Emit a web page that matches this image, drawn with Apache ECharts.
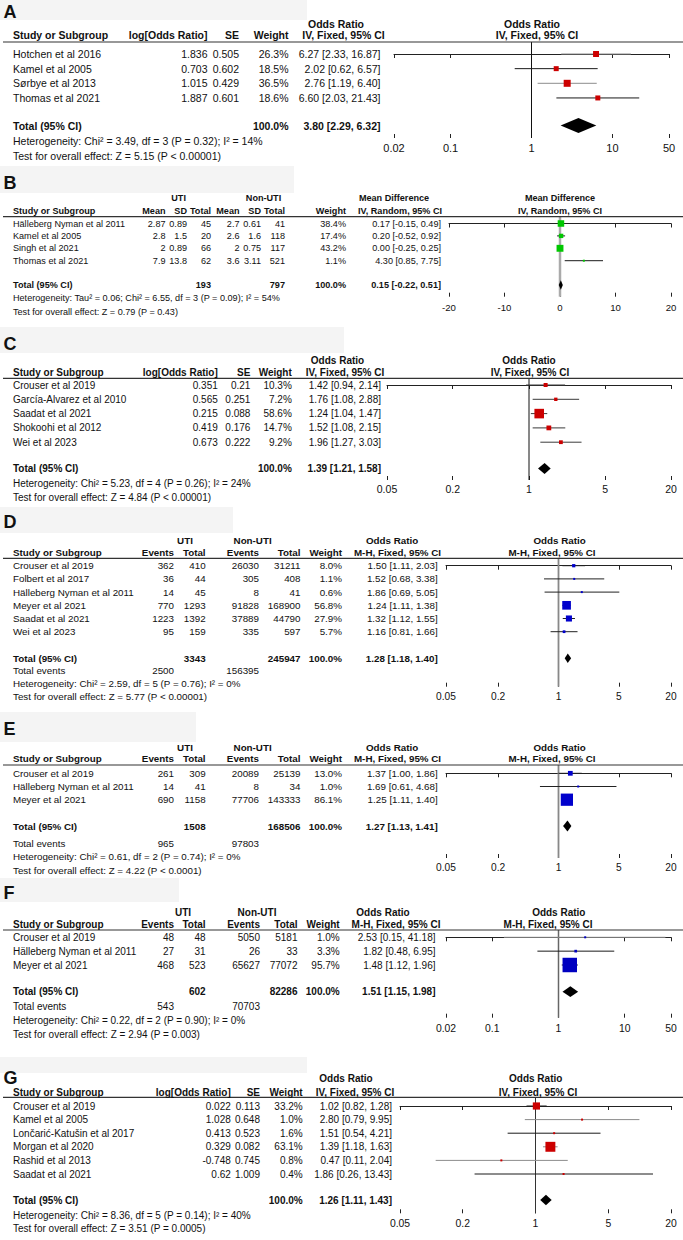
<!DOCTYPE html>
<html>
<head>
<meta charset="utf-8">
<script src="https://cdn.jsdelivr.net/npm/echarts@6.0.0/dist/echarts.min.js"></script>
<style>
html,body{margin:0;padding:0;background:#fff;}
#c{width:683px;height:1240px;}
</style>
</head>
<body>
<div id="c"></div>
<script>
// ---------------- DATA ----------------
// Panel A
const A_study = ['Hotchen et al 2016', 'Kamel et al 2005', 'Sørbye et al 2013', 'Thomas et al 2021'];
const A_logOR = [1.836, 0.703, 1.015, 1.887];
const A_se = [0.505, 0.602, 0.429, 0.601];
const A_weight = [26.3, 18.5, 36.5, 18.6];
const A_or = [6.27, 2.02, 2.76, 6.60];
const A_lo = [2.33, 0.62, 1.19, 2.03];
const A_hi = [16.87, 6.57, 6.40, 21.43];
const A_total = [3.80, 2.29, 6.32];
const A_ticks = [0.02, 0.1, 1, 10, 50];
const A_het = 'Heterogeneity: Chi² = 3.49, df = 3 (P = 0.32); I² = 14%';
const A_test = 'Test for overall effect: Z = 5.15 (P < 0.00001)';

// Panel B
const B_study = ['Hälleberg Nyman et al 2011', 'Kamel et al 2005', 'Singh et al 2021', 'Thomas et al 2021'];
const B_utiMean = [2.87, 2.8, 2, 7.9];
const B_utiSD = [0.89, 1.5, 0.89, 13.8];
const B_utiN = [45, 20, 66, 62];
const B_nonMean = [2.7, 2.6, 2, 3.6];
const B_nonSD = [0.61, 1.6, 0.75, 3.11];
const B_nonN = [41, 118, 117, 521];
const B_weight = [38.4, 17.4, 43.2, 1.1];
const B_md = [0.17, 0.20, 0.00, 4.30];
const B_lo = [-0.15, -0.52, -0.25, 0.85];
const B_hi = [0.49, 0.92, 0.25, 7.75];
const B_total = [0.15, -0.22, 0.51];
const B_totals = [193, 797];
const B_ticks = [-20, -10, 0, 10, 20];
const B_het = 'Heterogeneity: Tau² = 0.06; Chi² = 6.55, df = 3 (P = 0.09); I² = 54%';
const B_test = 'Test for overall effect: Z = 0.79 (P = 0.43)';

// Panel C
const C_study = ['Crouser et al 2019', 'García-Alvarez et al 2010', 'Saadat et al 2021', 'Shokoohi et al 2012', 'Wei et al 2023'];
const C_logOR = [0.351, 0.565, 0.215, 0.419, 0.673];
const C_se = [0.21, 0.251, 0.088, 0.176, 0.222];
const C_weight = [10.3, 7.2, 58.6, 14.7, 9.2];
const C_or = [1.42, 1.76, 1.24, 1.52, 1.96];
const C_lo = [0.94, 1.08, 1.04, 1.08, 1.27];
const C_hi = [2.14, 2.88, 1.47, 2.15, 3.03];
const C_total = [1.39, 1.21, 1.58];
const C_ticks = [0.05, 0.2, 1, 5, 20];
const C_het = 'Heterogeneity: Chi² = 5.23, df = 4 (P = 0.26); I² = 24%';
const C_test = 'Test for overall effect: Z = 4.84 (P < 0.00001)';

// Panel D
const D_study = ['Crouser et al 2019', 'Folbert et al 2017', 'Hälleberg Nyman et al 2011', 'Meyer et al 2021', 'Saadat et al 2021', 'Wei et al 2023'];
const D_utiEvents = [362, 36, 14, 770, 1223, 95];
const D_utiTotal = [410, 44, 45, 1293, 1392, 159];
const D_nonEvents = [26030, 305, 8, 91828, 37889, 335];
const D_nonTotal = [31211, 408, 41, 168900, 44790, 597];
const D_weight = [8.0, 1.1, 0.6, 56.8, 27.9, 5.7];
const D_or = [1.50, 1.52, 1.86, 1.24, 1.32, 1.16];
const D_lo = [1.11, 0.68, 0.69, 1.11, 1.12, 0.81];
const D_hi = [2.03, 3.38, 5.05, 1.38, 1.55, 1.66];
const D_total = [1.28, 1.18, 1.40];
const D_totals = [3343, 245947];
const D_totalEvents = [2500, 156395];
const D_ticks = [0.05, 0.2, 1, 5, 20];
const D_het = 'Heterogeneity: Chi² = 2.59, df = 5 (P = 0.76); I² = 0%';
const D_test = 'Test for overall effect: Z = 5.77 (P < 0.00001)';

// Panel E
const E_study = ['Crouser et al 2019', 'Hälleberg Nyman et al 2011', 'Meyer et al 2021'];
const E_utiEvents = [261, 14, 690];
const E_utiTotal = [309, 41, 1158];
const E_nonEvents = [20089, 8, 77706];
const E_nonTotal = [25139, 34, 143333];
const E_weight = [13.0, 1.0, 86.1];
const E_or = [1.37, 1.69, 1.25];
const E_lo = [1.00, 0.61, 1.11];
const E_hi = [1.86, 4.68, 1.40];
const E_total = [1.27, 1.13, 1.41];
const E_totals = [1508, 168506];
const E_totalEvents = [965, 97803];
const E_ticks = [0.05, 0.2, 1, 5, 20];
const E_het = 'Heterogeneity: Chi² = 0.61, df = 2 (P = 0.74); I² = 0%';
const E_test = 'Test for overall effect: Z = 4.22 (P < 0.0001)';

// Panel F
const F_study = ['Crouser et al 2019', 'Hälleberg Nyman et al 2011', 'Meyer et al 2021'];
const F_utiEvents = [48, 27, 468];
const F_utiTotal = [48, 31, 523];
const F_nonEvents = [5050, 26, 65627];
const F_nonTotal = [5181, 33, 77072];
const F_weight = [1.0, 3.3, 95.7];
const F_or = [2.53, 1.82, 1.48];
const F_lo = [0.15, 0.48, 1.12];
const F_hi = [41.18, 6.95, 1.96];
const F_total = [1.51, 1.15, 1.98];
const F_totals = [602, 82286];
const F_totalEvents = [543, 70703];
const F_ticks = [0.02, 0.1, 1, 10, 50];
const F_het = 'Heterogeneity: Chi² = 0.22, df = 2 (P = 0.90); I² = 0%';
const F_test = 'Test for overall effect: Z = 2.94 (P = 0.003)';

// Panel G
const G_study = ['Crouser et al 2019', 'Kamel et al 2005', 'Lončarić-Katušin et al 2017', 'Morgan et al 2020', 'Rashid et al 2013', 'Saadat et al 2021'];
const G_logOR = [0.022, 1.028, 0.413, 0.329, -0.748, 0.62];
const G_se = [0.113, 0.648, 0.523, 0.082, 0.745, 1.009];
const G_weight = [33.2, 1.0, 1.6, 63.1, 0.8, 0.4];
const G_or = [1.02, 2.80, 1.51, 1.39, 0.47, 1.86];
const G_lo = [0.82, 0.79, 0.54, 1.18, 0.11, 0.26];
const G_hi = [1.28, 9.95, 4.21, 1.63, 2.04, 13.43];
const G_total = [1.26, 1.11, 1.43];
const G_ticks = [0.05, 0.2, 1, 5, 20];
const G_het = 'Heterogeneity: Chi² = 8.36, df = 5 (P = 0.14); I² = 40%';
const G_test = 'Test for overall effect: Z = 3.51 (P = 0.0005)';

// ---------------- LAYOUT / STYLE ----------------
const FAMILY = '"Liberation Sans", Arial, Helvetica, sans-serif';
const NARROW = '"Liberation Sans Narrow", "Arial Narrow", "Liberation Sans", sans-serif';
const GR = '#8c8c8c', DK = '#1a1a1a';
const LAY = {
  A: {ly: 12, box: [0, 0, 307, 20], h1: 24.2, h2: 34.7, ul: 42, row0: 54, d: 14.65, total: 125.5, het: 140.7, test: 155.5, axis: 138, xl: 394, xr: 669, fs: 10.5, afs: 11, lm: 4.5, k: 1.16, dh: 15, color: '#cc0000', ciCs: [GR, DK, GR, DK], refC: '#111', refW: 1},
  B: {ly: 182.5, box: [0, 166, 294, 27], h1: 198, h2: 210.5, ul: 216.7, row0: 223.5, d: 12.4, total: 285, het: 297.5, test: 311.5, axis: 296.7, xl: 449, xr: 671, fs: 9.1, afs: 9.6, lm: 5.5, k: 1.05, dh: 9.5, color: '#00c800', ciC: DK, refC: '#aaa', refW: 2.5},
  C: {ly: 343.5, box: [0, 327, 344, 26], h1: 360.5, h2: 372.5, ul: 378.3, row0: 385, d: 14.3, total: 468.5, het: 483.3, test: 497, axis: 480, xl: 387, xr: 671, fs: 10, afs: 10.5, lm: 3, k: 1.25, dh: 11, color: '#cc0000', ciC: '#3a3a3a', refC: '#111', refW: 1},
  D: {ly: 522, box: [0, 507, 233, 26], h1: 540.5, h2: 552.3, ul: 558.3, row0: 565.7, d: 13.2, total: 658.3, te: 670, het: 683.3, test: 696.7, axis: 686.7, xl: 446, xr: 671, fs: 9.8, afs: 10.2, lm: 4.5, k: 1.15, dh: 9.5, color: '#0000cc', ciC: '#222', refC: '#888', refW: 1.8},
  E: {ly: 728.5, box: [0, 712, 196, 30], h1: 747.3, h2: 758.3, ul: 765, row0: 773.3, d: 13.2, total: 826, te: 843, het: 856.5, test: 870, axis: 858, xl: 446, xr: 671, fs: 9.8, afs: 10.2, lm: 4, k: 1.32, dh: 11, color: '#0000cc', ciC: '#222', refC: '#888', refW: 1.8},
  F: {ly: 893, box: [0, 878, 179, 24], h1: 912.7, h2: 924.5, ul: 930, row0: 937.3, d: 13.85, total: 991.7, te: 1006, het: 1020, test: 1034.5, axis: 1017.7, xl: 446, xr: 671, fs: 10, afs: 10.4, lm: 5.5, k: 1.48, dh: 10.7, color: '#0000c0', ciCs: [GR, DK, DK], refC: '#666', refW: 1.5},
  G: {ly: 1078, box: [0, 1057, 307, 16], h1: 1078.5, h2: 1092, ul: 1097.3, row0: 1106, d: 13.6, total: 1200, het: 1215.5, test: 1228.5, axis: 1213.3, xl: 400, xr: 671, fs: 10, afs: 10.4, lm: 5.5, k: 1.25, dh: 10.7, color: '#cc0000', ciCs: [DK, GR, DK, GR, GR, DK], refC: '#333', refW: 1}
};

// ---------------- HELPERS ----------------
const f2 = v => v.toFixed(2);
const ciStr = (e, l, h) => f2(e) + ' [' + f2(l) + ', ' + f2(h) + ']';
const pct = w => w.toFixed(1) + '%';
const graphics = [], grids = [], xAxes = [], yAxes = [], series = [];

function text(x, y, s, size, o) {
  o = o || {};
  graphics.push({
    type: 'text', x: x, y: y, silent: true, z: 10,
    style: {
      text: s,
      font: (o.bold ? 'bold ' : '') + size + 'px ' + (o.font || FAMILY),
      fill: o.color || '#111',
      textAlign: o.align || 'left',
      textVerticalAlign: 'middle'
    }
  });
}

function panel(key, cfg) {
  const L = LAY[key], fs = L.fs, n = cfg.study.length, d = L.d;
  const rowY = i => L.row0 + i * d;
  const totIdx = (L.total - L.row0) / d;

  graphics.push({type: 'rect', silent: true, z: 0, shape: {x: L.box[0], y: L.box[1], width: L.box[2], height: L.box[3]}, style: {fill: '#f4f4f4'}});
  text(3.5, L.ly, key, 18, {bold: 1, font: NARROW});

  cfg.head1.forEach(h => text(h[1], L.h1, h[0], fs, {bold: 1, align: 'center'}));
  text(13, L.h2, 'Study or Subgroup', fs, {bold: 1});
  cfg.cols.forEach(c => text(c.x, L.h2, c.head, fs, {bold: 1, align: 'right'}));
  text(cfg.ciHead[0], L.h2, cfg.ciText, fs, {bold: 1, align: 'center'});
  text(cfg.ciHead[1], L.h2, cfg.ciText, fs, {bold: 1, align: 'center'});
  graphics.push({type: 'line', silent: true, z: 5, shape: {x1: 3, y1: L.ul, x2: 683, y2: L.ul}, style: {stroke: '#333', lineWidth: 1.2}});

  cfg.study.forEach((s, i) => {
    const y = rowY(i);
    text(13, y, s, fs);
    cfg.cols.forEach(c => text(c.x, y, String(c.vals[i]), fs, {align: 'right'}));
    text(cfg.ciX, y, ciStr(cfg.est[i], cfg.lo[i], cfg.hi[i]), fs, {align: 'right'});
  });
  const ty = L.total;
  text(13, ty, 'Total (95% CI)', fs, {bold: 1});
  cfg.cols.forEach(c => { if (c.tot != null) text(c.x, ty, String(c.tot), fs, {bold: 1, align: 'right'}); });
  text(cfg.ciX, ty, ciStr(cfg.total[0], cfg.total[1], cfg.total[2]), fs, {bold: 1, align: 'right'});
  if (cfg.events) {
    text(13, L.te, 'Total events', fs);
    cfg.events.forEach(e => text(e[0], L.te, String(e[1]), fs, {align: 'right'}));
  }
  text(13, L.het, cfg.het, fs);
  text(13, L.test, cfg.test, fs);

  // ---- chart part ----
  const gi = grids.length;
  grids.push({left: L.xl, top: L.ul, width: L.xr - L.xl, height: L.axis - L.ul, containLabel: false, outerBoundsMode: 'none'});
  const tx = cfg.log ? (v => Math.log10(v)) : (v => v);
  const tickVals = cfg.ticks.map(tx);
  const xmin = tickVals[0], xmax = tickVals[tickVals.length - 1];
  const fmt = v => {
    const i = tickVals.findIndex(t => Math.abs(t - v) < 1e-6);
    return i >= 0 ? String(cfg.ticks[i]) : '';
  };
  const xi = xAxes.length;
  xAxes.push({
    gridIndex: gi, type: 'value', position: 'bottom', min: xmin, max: xmax,
    axisLine: {show: true, lineStyle: {color: '#222', width: 1}},
    axisTick: {show: true, customValues: tickVals, length: 4, lineStyle: {color: '#222', width: 1}},
    axisLabel: {show: true, customValues: tickVals, formatter: fmt, margin: L.lm, fontSize: L.afs, color: '#111', fontFamily: FAMILY},
    splitLine: {show: false}
  });
  xAxes.push({
    gridIndex: gi, type: 'value', position: 'bottom', min: xmin, max: xmax,
    axisLine: {show: false},
    axisTick: {show: true, inside: true, customValues: tickVals, length: 4, lineStyle: {color: '#222', width: 1}},
    axisLabel: {show: false}, splitLine: {show: false}
  });
  const yi = yAxes.length;
  yAxes.push({gridIndex: gi, type: 'value', inverse: true, show: false,
    min: (L.ul - L.row0) / d, max: (L.axis - L.row0) / d});

  // reference (no-effect) line
  series.push({
    type: 'custom', xAxisIndex: xi, yAxisIndex: yi, silent: true, z: 1,
    data: [[tx(cfg.ref), 0]], encode: {x: 0, y: 1},
    renderItem: (p, api) => {
      const cs = p.coordSys;
      const x = api.coord([api.value(0), 0])[0];
      return {type: 'line', shape: {x1: x, y1: cs.y, x2: x, y2: cs.y + cs.height}, style: {stroke: L.refC, lineWidth: L.refW}};
    }
  });
  // study CIs and weight squares
  series.push({
    type: 'custom', xAxisIndex: xi, yAxisIndex: yi, silent: true, z: 3,
    data: cfg.est.map((e, i) => [tx(e), tx(cfg.lo[i]), tx(cfg.hi[i]), cfg.weight[i], i]),
    encode: {x: [0, 1, 2], y: 4},
    renderItem: (p, api) => {
      const r = api.value(4);
      const c = api.coord([api.value(0), r]);
      const l = api.coord([api.value(1), r]);
      const h = api.coord([api.value(2), r]);
      const s = Math.max(2, L.k * Math.sqrt(api.value(3)));
      const stroke = L.ciCs ? L.ciCs[p.dataIndex] : L.ciC;
      return {type: 'group', children: [
        {type: 'line', shape: {x1: l[0], y1: c[1], x2: h[0], y2: c[1]}, style: {stroke: stroke, lineWidth: 1}},
        {type: 'rect', shape: {x: c[0] - s / 2, y: c[1] - s / 2, width: s, height: s}, style: {fill: L.color}}
      ]};
    }
  });
  // pooled diamond
  series.push({
    type: 'custom', xAxisIndex: xi, yAxisIndex: yi, silent: true, z: 4,
    data: [[tx(cfg.total[0]), tx(cfg.total[1]), tx(cfg.total[2]), totIdx]],
    encode: {x: [0, 1, 2], y: 3},
    renderItem: (p, api) => {
      const r = api.value(3);
      const c = api.coord([api.value(0), r]);
      const l = api.coord([api.value(1), r]);
      const h = api.coord([api.value(2), r]);
      const hh = L.dh / 2;
      return {type: 'polygon', shape: {points: [[l[0], c[1]], [c[0], c[1] - hh], [h[0], c[1]], [c[0], c[1] + hh]]}, style: {fill: '#000'}};
    }
  });
}

// ---------------- PANELS ----------------
panel('A', {
  study: A_study, est: A_or, lo: A_lo, hi: A_hi, weight: A_weight, total: A_total,
  log: true, ticks: A_ticks, ref: 1, het: A_het, test: A_test,
  head1: [['Odds Ratio', 336], ['Odds Ratio', 532]],
  ciText: 'IV, Fixed, 95% CI', ciHead: [343.5, 537], ciX: 380.5,
  cols: [
    {head: 'log[Odds Ratio]', x: 207.5, vals: A_logOR},
    {head: 'SE', x: 239, vals: A_se},
    {head: 'Weight', x: 288.5, vals: A_weight.map(pct), tot: '100.0%'}
  ]
});
panel('B', {
  study: B_study, est: B_md, lo: B_lo, hi: B_hi, weight: B_weight, total: B_total,
  log: false, ticks: B_ticks, ref: 0, het: B_het, test: B_test,
  head1: [['UTI', 178.6], ['Non-UTI', 263.5], ['Mean Difference', 394], ['Mean Difference', 560]],
  ciText: 'IV, Random, 95% CI', ciHead: [400, 560], ciX: 441,
  cols: [
    {head: 'Mean', x: 165.5, vals: B_utiMean},
    {head: 'SD', x: 187, vals: B_utiSD},
    {head: 'Total', x: 211, vals: B_utiN, tot: B_totals[0]},
    {head: 'Mean', x: 239.5, vals: B_nonMean},
    {head: 'SD', x: 261, vals: B_nonSD},
    {head: 'Total', x: 285, vals: B_nonN, tot: B_totals[1]},
    {head: 'Weight', x: 346, vals: B_weight.map(pct), tot: '100.0%'}
  ]
});
panel('C', {
  study: C_study, est: C_or, lo: C_lo, hi: C_hi, weight: C_weight, total: C_total,
  log: true, ticks: C_ticks, ref: 1, het: C_het, test: C_test,
  head1: [['Odds Ratio', 337.5], ['Odds Ratio', 529]],
  ciText: 'IV, Fixed, 95% CI', ciHead: [345, 530], ciX: 381,
  cols: [
    {head: 'log[Odds Ratio]', x: 217.8, vals: C_logOR},
    {head: 'SE', x: 250.4, vals: C_se},
    {head: 'Weight', x: 291.8, vals: C_weight.map(pct), tot: '100.0%'}
  ]
});
function dichCols(uE, uT, nE, nT, w, tots, xs) {
  return [
    {head: 'Events', x: xs[0], vals: uE},
    {head: 'Total', x: xs[1], vals: uT, tot: tots[0]},
    {head: 'Events', x: xs[2], vals: nE},
    {head: 'Total', x: xs[3], vals: nT, tot: tots[1]},
    {head: 'Weight', x: xs[4], vals: w.map(pct), tot: '100.0%'}
  ];
}
panel('D', {
  study: D_study, est: D_or, lo: D_lo, hi: D_hi, weight: D_weight, total: D_total,
  log: true, ticks: D_ticks, ref: 1, het: D_het, test: D_test,
  head1: [['UTI', 185], ['Non-UTI', 252.6], ['Odds Ratio', 392], ['Odds Ratio', 559.6]],
  ciText: 'M-H, Fixed, 95% CI', ciHead: [397.5, 552], ciX: 437.7,
  cols: dichCols(D_utiEvents, D_utiTotal, D_nonEvents, D_nonTotal, D_weight, D_totals, [174, 205.6, 259, 300.5, 342]),
  events: [[174, D_totalEvents[0]], [259, D_totalEvents[1]]]
});
panel('E', {
  study: E_study, est: E_or, lo: E_lo, hi: E_hi, weight: E_weight, total: E_total,
  log: true, ticks: E_ticks, ref: 1, het: E_het, test: E_test,
  head1: [['UTI', 185], ['Non-UTI', 252.6], ['Odds Ratio', 392], ['Odds Ratio', 559.6]],
  ciText: 'M-H, Fixed, 95% CI', ciHead: [397.5, 552], ciX: 437.7,
  cols: dichCols(E_utiEvents, E_utiTotal, E_nonEvents, E_nonTotal, E_weight, E_totals, [174, 205.6, 259, 300.5, 342]),
  events: [[174, E_totalEvents[0]], [259, E_totalEvents[1]]]
});
panel('F', {
  study: F_study, est: F_or, lo: F_lo, hi: F_hi, weight: F_weight, total: F_total,
  log: true, ticks: F_ticks, ref: 1, het: F_het, test: F_test,
  head1: [['UTI', 183], ['Non-UTI', 257], ['Odds Ratio', 383], ['Odds Ratio', 558.8]],
  ciText: 'M-H, Fixed, 95% CI', ciHead: [396, 548], ciX: 435.5,
  cols: dichCols(F_utiEvents, F_utiTotal, F_nonEvents, F_nonTotal, F_weight, F_totals, [174, 205.6, 260, 297.5, 339.7]),
  events: [[174, F_totalEvents[0]], [260, F_totalEvents[1]]]
});
panel('G', {
  study: G_study, est: G_or, lo: G_lo, hi: G_hi, weight: G_weight, total: G_total,
  log: true, ticks: G_ticks, ref: 1, het: G_het, test: G_test,
  head1: [['Odds Ratio', 346], ['Odds Ratio', 535.7]],
  ciText: 'IV, Fixed, 95% CI', ciHead: [355, 538], ciX: 392,
  cols: [
    {head: 'log[Odds Ratio]', x: 230.8, vals: G_logOR},
    {head: 'SE', x: 260, vals: G_se},
    {head: 'Weight', x: 302.7, vals: G_weight.map(pct), tot: '100.0%'}
  ]
});

const chart = echarts.init(document.getElementById('c'), null, {renderer: 'svg', width: 683, height: 1240});
chart.setOption({
  animation: false,
  backgroundColor: '#ffffff',
  grid: grids,
  xAxis: xAxes,
  yAxis: yAxes,
  series: series,
  graphic: {elements: graphics}
});
</script>
</body>
</html>
